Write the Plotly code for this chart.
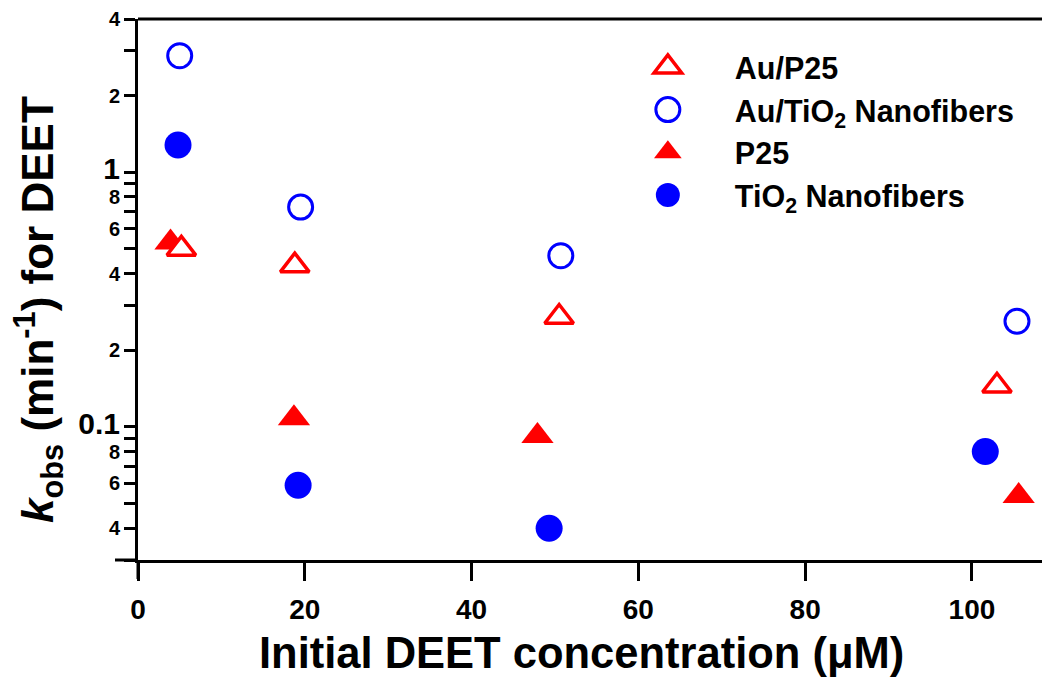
import plotly.graph_objects as go
import math

# ---- data ----
x_au_p25 = [5.2, 18.8, 50.5, 103.0]
y_au_p25 = [0.50, 0.43, 0.27, 0.145]

x_au_nf = [5.0, 19.5, 50.7, 105.4]
y_au_nf = [2.87, 0.73, 0.47, 0.26]

x_p25 = [3.9, 18.7, 47.9, 105.6]
y_p25 = [0.53, 0.108, 0.092, 0.0535]

x_nf = [4.8, 19.2, 49.3, 101.6]
y_nf = [1.28, 0.059, 0.040, 0.080]

x_ticks = [0, 20, 40, 60, 80, 100]
y_tickvals = [4, 3, 2, 1, 0.9, 0.8, 0.7, 0.6, 0.5, 0.4, 0.3, 0.2,
              0.1, 0.09, 0.08, 0.07, 0.06, 0.05, 0.04, 0.03]
y_ticktext = ["4", "", "2", "1", "", "8", "", "6", "", "4", "", "2",
              "0.1", "", "8", "", "6", "", "4", ""]

RED = "#FF0000"
BLUE = "#0000FF"
FONT = "Liberation Sans, Arial, sans-serif"

big = '<span style="font-size:30px">{}</span>'
y_ticktext = [big.format(t) if t in ("1", "0.1") else t for t in y_ticktext]

fig = go.Figure()
fig.add_trace(go.Scatter(x=x_p25, y=y_p25, mode="markers", name="P25",
                         legendrank=3,
                         marker=dict(symbol="triangle-up", size=28, color=RED,
                                     line=dict(width=0))))
fig.add_trace(go.Scatter(x=x_nf, y=y_nf, mode="markers",
                         name="TiO<sub>2</sub> Nanofibers", legendrank=4,
                         marker=dict(symbol="circle", size=27, color=BLUE,
                                     line=dict(width=0))))
fig.add_trace(go.Scatter(x=x_au_p25, y=y_au_p25, mode="markers", name="Au/P25",
                         legendrank=1,
                         marker=dict(symbol="triangle-up", size=25, color="white",
                                     line=dict(width=3.5, color=RED))))
fig.add_trace(go.Scatter(x=x_au_nf, y=y_au_nf, mode="markers",
                         name="Au/TiO<sub>2</sub> Nanofibers", legendrank=2,
                         marker=dict(symbol="circle", size=24, color="white",
                                     line=dict(width=3, color=BLUE))))

fig.update_layout(
    width=1042, height=681,
    margin=dict(l=138, r=0, t=19, b=121),
    paper_bgcolor="white", plot_bgcolor="white",
    font=dict(family=FONT, color="black", weight="bold"),
    showlegend=True,
    legend=dict(x=0.512, y=0.96, xanchor="left", yanchor="top",
                bgcolor="rgba(0,0,0,0)", itemwidth=124,
                font=dict(family=FONT, size=30.5, color="black", weight="bold"),
                itemsizing="trace"),
    xaxis=dict(range=[0, 108.4], tickvals=x_ticks, ticks="outside",
               ticklen=18, tickwidth=3, tickcolor="black", ticklabelstandoff=4,
               showline=True, linewidth=3, linecolor="black", mirror=False,
               showgrid=False, zeroline=False, automargin=False,
               tickfont=dict(family=FONT, size=28, color="black", weight="bold")),
    yaxis=dict(type="log", range=[math.log10(0.03), math.log10(4)],
               tickvals=y_tickvals, ticktext=y_ticktext, ticks="outside",
               ticklen=11, tickwidth=3, tickcolor="black",
               showline=True, linewidth=3, linecolor="black",
               showgrid=False, zeroline=False, automargin=False,
               tickfont=dict(family=FONT, size=20, color="black", weight="bold")),
)

# axis titles
fig.add_annotation(text="Initial DEET concentration (μM)", xref="paper", yref="paper",
                   x=0.4906, y=-0.1720, xanchor="center", yanchor="middle",
                   showarrow=False,
                   font=dict(family=FONT, size=43.5, color="black", weight="bold"))
fig.add_annotation(text="<i>k</i><sub>obs</sub> (min<sup>-1</sup>) for DEET",
                   xref="paper", yref="paper", x=-0.1106, y=0.462,
                   xanchor="center", yanchor="middle", textangle=-90,
                   showarrow=False,
                   font=dict(family=FONT, size=44, color="black", weight="bold"))

# top frame line and Prism-style axis extensions
fig.add_shape(type="line", xref="paper", yref="paper", x0=0, x1=1, y0=1, y1=1,
              line=dict(color="black", width=3))
fig.add_shape(type="line", xref="paper", yref="paper", x0=-23/904, x1=0, y0=0, y1=0,
              line=dict(color="black", width=3))
fig.add_shape(type="line", xref="paper", yref="paper", x0=0, x1=0, y0=0, y1=-19/541,
              line=dict(color="black", width=3))

post = """
document.body.style.margin='0';
document.querySelectorAll('.legend .legendpoints path').forEach(function(p){
  var t = p.getAttribute('transform') || '';
  p.setAttribute('transform', t + ' scale(1.5)');
  p.setAttribute('vector-effect', 'non-scaling-stroke');
});
"""

fig.write_html("out.html", config={"displayModeBar": False}, post_script=post)
